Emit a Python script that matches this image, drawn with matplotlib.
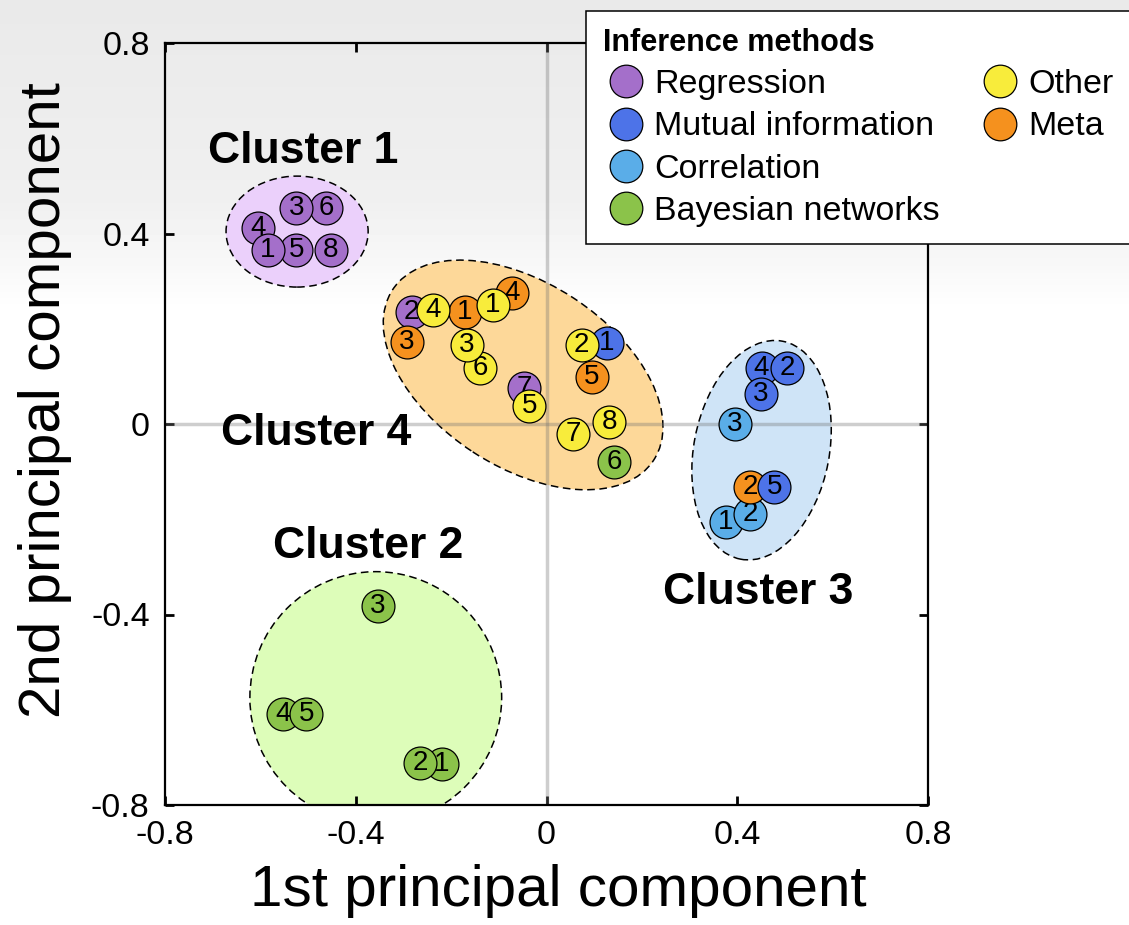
import numpy as np
import matplotlib
matplotlib.use("Agg")
import matplotlib.pyplot as plt
from matplotlib.patches import Ellipse
from matplotlib.lines import Line2D

plt.rcParams['font.family'] = ['Liberation Sans', 'DejaVu Sans']

# inference methods and their colours
methods = ["Regression", "Mutual information", "Correlation", "Bayesian networks", "Other", "Meta"]
method_colors = ["#a46fca", "#4d73e8", "#5aade8", "#8bc34a", "#f8ec3b", "#f5911e"]

# PCA coordinates of each method (drawn in this order, later ones on top)
pc1 = [-0.462, -0.525, -0.605, -0.525, -0.584, -0.452,
       -0.283, -0.047, 0.126, 0.142, -0.073, -0.171, -0.293, 0.095,
       -0.237, -0.112, -0.139, -0.167, -0.036, 0.074, 0.056, 0.132,
       0.376, 0.427, 0.427, 0.478, 0.451, 0.450, 0.504, 0.395,
       -0.552, -0.504, -0.220, -0.265, -0.354]
pc2 = [0.454, 0.454, 0.412, 0.366, 0.366, 0.366,
       0.236, 0.075, 0.170, -0.079, 0.275, 0.236, 0.173, 0.099,
       0.239, 0.250, 0.117, 0.166, 0.038, 0.166, -0.020, 0.005,
       -0.205, -0.188, -0.132, -0.132, 0.117, 0.064, 0.117, 0.001,
       -0.608, -0.608, -0.713, -0.711, -0.382]
kind = [0, 0, 0, 0, 0, 0,
        0, 0, 1, 3, 5, 5, 5, 5,
        4, 4, 4, 4, 4, 4, 4, 4,
        2, 2, 5, 1, 1, 1, 1, 2,
        3, 3, 3, 3, 3]
ids = ["6", "3", "4", "5", "1", "8",
       "2", "7", "1", "6", "4", "1", "3", "5",
       "4", "1", "6", "3", "5", "2", "7", "8",
       "1", "2", "2", "5", "4", "3", "2", "3",
       "4", "5", "1", "2", "3"]

# cluster outlines: centre, width, height, angle
cluster_names = ["Cluster 1", "Cluster 4", "Cluster 3", "Cluster 2"]
cluster_center = [(-0.523, 0.404), (-0.049, 0.103), (0.451, -0.055), (-0.358, -0.575)]
cluster_size = [(0.298, 0.233), (0.654, 0.386), (0.284, 0.466), (0.528, 0.53)]
cluster_angle = [0, -33.2, -10.9, 0]
cluster_fill = ["#ebd0fb", "#fdd899", "#cfe4f7", "#ddfdb9"]
label_pos = [(-0.510, 0.548), (-0.484, -0.044), (0.444, -0.377), (-0.374, -0.282)]

fig = plt.figure(figsize=(11.29, 9.25), dpi=100)

# light grey fade at the top of the slide
bg = fig.add_axes([0, 0, 1, 1])
rows = np.arange(925)
shade = np.interp(rows, [0, 200, 270, 310, 925], [0.915, 0.94, 0.975, 1.0, 1.0])
bg.imshow(shade[:, None], cmap="gray", vmin=0, vmax=1, aspect="auto", extent=(0, 1, 0, 1))
bg.axis("off")

ax = fig.add_axes([165 / 1129, 1 - 805 / 925, 763 / 1129, 762 / 925])
ax.set_facecolor("none")

for c, (w, h), a, fc in zip(cluster_center, cluster_size, cluster_angle, cluster_fill):
    ax.add_patch(Ellipse(c, w, h, angle=a, facecolor=fc, edgecolor="black",
                         linestyle=(0, (5, 3)), linewidth=1.1, zorder=1))

ax.axvline(0, color="0.45", alpha=0.35, linewidth=2.5, zorder=2)
ax.axhline(0, color="0.45", alpha=0.35, linewidth=2.5, zorder=2)

for i, (x, y, k, t) in enumerate(zip(pc1, pc2, kind, ids)):
    z = 3 + i * 0.01
    ax.scatter([x], [y], s=560, color=method_colors[k], edgecolors="black",
               linewidths=0.9, zorder=z)
    ax.text(x, y, t, ha="center", va="center", fontsize=20, zorder=z + 0.005)

for name, (lx, ly) in zip(cluster_names, label_pos):
    ax.text(lx, ly, name, ha="center", va="baseline", fontsize=32, fontweight="bold", zorder=10)

ax.set_xlim(-0.8, 0.8)
ax.set_ylim(-0.8, 0.8)
ticks = [-0.8, -0.4, 0, 0.4, 0.8]
tick_labels = ["-0.8", "-0.4", "0", "0.4", "0.8"]
ax.set_xticks(ticks)
ax.set_xticklabels(tick_labels)
ax.set_yticks(ticks)
ax.set_yticklabels(tick_labels)
ax.tick_params(direction="in", top=True, right=True, length=6.5, width=2,
               labelsize=24.5, pad=11)
for sp in ax.spines.values():
    sp.set_linewidth(1.6)

ax.set_xlabel("1st principal component", fontsize=42)
ax.set_ylabel("2nd principal component", fontsize=42)
ax.xaxis.set_label_coords(0.515, -0.078)
ax.yaxis.set_label_coords(-0.122, 0.531)

handles = [Line2D([], [], marker="o", linestyle="", markersize=23.5,
                  markerfacecolor=c, markeredgecolor="black", markeredgewidth=0.9)
           for c in method_colors]
blank = Line2D([], [], linestyle="", marker="")
leg = fig.legend(handles + [blank, blank], methods + ["", ""], ncol=2,
                 loc="upper left", bbox_to_anchor=(586 / 1129, 1 - 11 / 925),
                 borderaxespad=0, title="Inference methods",
                 title_fontproperties={"weight": "bold", "size": 22},
                 fontsize=24.5, alignment="left", fancybox=False, framealpha=1,
                 edgecolor="black", borderpad=0.5, handlelength=1.35,
                 handletextpad=0.15, columnspacing=1.1, labelspacing=0.33)
leg.get_frame().set_linewidth(1.1)

fig.savefig("out.png", dpi=100)
